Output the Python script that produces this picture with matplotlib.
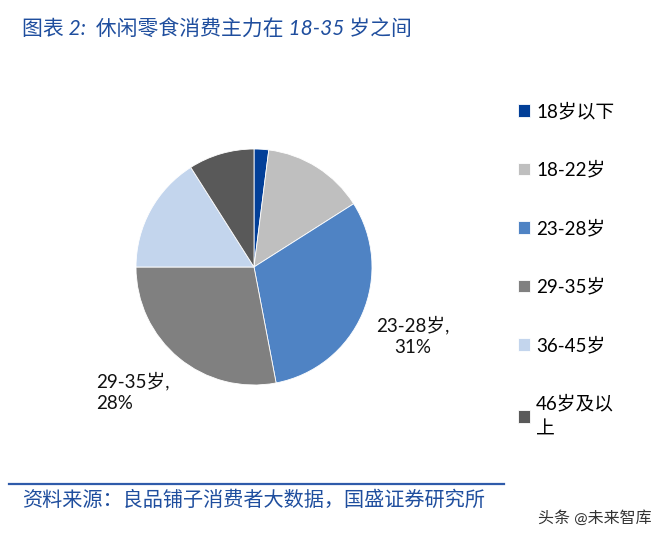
import numpy as np
import matplotlib
matplotlib.use("Agg")
import matplotlib.pyplot as plt

plt.rcParams['font.family'] = ['Lato', 'Noto Sans CJK SC', 'DejaVu Sans']

# age groups and share of consumers (%)
groups = ["18岁以下", "18-22岁", "23-28岁", "29-35岁", "36-45岁", "46岁及以\n上"]
shares = [2, 14, 31, 28, 16, 9]
colors = ["#023F98", "#BFBFBF", "#4F83C4", "#808080", "#C3D5ED", "#595959"]
# only these two slices carry a data label
labelled = {2: "23-28岁,\n31%", 3: "29-35岁,\n28%"}

fig = plt.figure(figsize=(6.68, 5.4), dpi=100)

# title
fig.text(22 / 668, 1 - 30 / 540, "图表 2:  休闲零食消费主力在 18-35 岁之间",
         fontsize=15, color="#1F4E9E", style="italic", va="center", ha="left")

ax = fig.add_axes([(254 - 118) / 668, 1 - (267 + 118) / 540, 236 / 668, 236 / 540])
wedges, _ = ax.pie(shares, colors=colors, startangle=90, counterclock=False,
                   radius=1, wedgeprops=dict(linewidth=0.6, edgecolor="white"))
ax.set_xlim(-1, 1)
ax.set_ylim(-1, 1)
ax.set_aspect("equal")

# label distance and angle tweak (deg) per labelled slice
label_pos = {2: (1.47, 0.0), 3: (1.47, -4.5)}
for i, txt in labelled.items():
    w = wedges[i]
    d, tweak = label_pos[i]
    ang = np.deg2rad((w.theta1 + w.theta2) / 2 + tweak)
    ax.text(d * np.cos(ang), d * np.sin(ang), txt, ha="center", va="center",
            fontsize=13.5, color="#111111", multialignment="center" if i == 2 else "left",
            linespacing=1.3, clip_on=False)

leg = fig.legend(wedges, groups, loc="upper left", bbox_to_anchor=(510 / 668, 1 - 95 / 540),
                 frameon=False, fontsize=13.5, labelspacing=2.17, handlelength=0.65,
                 handleheight=0.65, handletextpad=0.35, borderaxespad=0)
for t in leg.get_texts():
    t.set_linespacing(1.55)

# bottom rule and source
fig.add_artist(plt.Line2D([9 / 668, 504 / 668], [1 - 484 / 540, 1 - 484 / 540],
                          color="#2F5BAA", linewidth=1.6))
fig.text(22 / 668, 1 - 499 / 540, "资料来源：良品铺子消费者大数据，国盛证券研究所",
         fontsize=14.5, color="#1F4E9E", style="italic", va="center", ha="left")
fig.text(652 / 668, 1 - 518 / 540, "头条 @未来智库", fontsize=11.5, color="#333333",
         va="center", ha="right")

fig.savefig("out.png", dpi=100)
